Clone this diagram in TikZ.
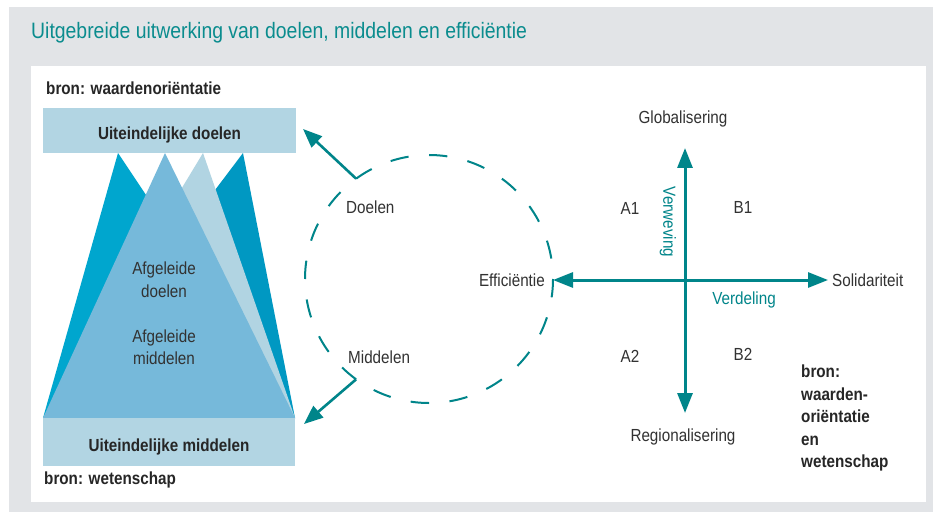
\documentclass[tikz,border=0pt]{standalone}
\usepackage{fontspec}
\setmainfont{Liberation Sans}[FakeStretch=0.87]
\usetikzlibrary{arrows.meta,calc}
\definecolor{tealc}{RGB}{0,133,138}
\definecolor{titlec}{RGB}{10,140,142}
\definecolor{bgc}{RGB}{226,228,231}
\definecolor{boxc}{RGB}{178,213,227}
\definecolor{cyanL}{RGB}{0,166,206}
\definecolor{cyanR}{RGB}{0,152,194}
\definecolor{lightT}{RGB}{177,212,226}
\definecolor{mainT}{RGB}{118,185,218}
\definecolor{txt}{RGB}{50,50,50}
\tikzset{
  lbl/.style={inner sep=0pt, text=txt, font=\fontsize{17.5}{21}\selectfont},
  blbl/.style={lbl, font=\fontsize{17.5}{22.5}\selectfont\bfseries, text=black!85},
  tlbl/.style={lbl, text=tealc},
  boxnode/.style={fill=boxc, inner sep=0pt, text height=18.6pt, text depth=0pt, text=black!85, font=\fontsize{17.5}{21}\selectfont\bfseries},
  axis/.style={draw=tealc, line width=3pt, {Triangle[length=20pt,width=15pt]}-{Triangle[length=20pt,width=15pt]}},
  outarrow/.style={draw=tealc, line width=2.6pt, -{Triangle[length=19pt,width=15pt]}},
  dashc/.style={draw=tealc, line width=2pt}
}
\begin{document}
\begin{tikzpicture}[x=1pt,y=-1pt]
\useasboundingbox (0,0) rectangle (933,513);
% panels
\fill[bgc] (9,7) rectangle (933,512);
\fill[white] (31,66) rectangle (926,502);
\node[anchor=west, inner sep=0pt, text=titlec, font=\fontsize{22.3}{26}\selectfont] (title) at (31,33) {Uitgebreide uitwerking van doelen, middelen en efficiëntie};
\node[blbl, anchor=west] (bron1) at (46,88) {bron: waardenoriëntatie};
\node[blbl, anchor=west] (bron2) at (44,480) {bron: wetenschap};
% triangles
\fill[cyanL] (118,153) -- (43,418) -- (295,418) -- cycle;
\fill[cyanR] (243,153) -- (43,418) -- (295,418) -- cycle;
\fill[lightT] (203,153) -- (43,418) -- (295,418) -- cycle;
\fill[mainT] (165,153) -- (43,418) -- (295,418) -- cycle;
% boxes
\node[boxnode, minimum width=253pt, minimum height=45pt] (topbox) at (169.5,130.5) {Uiteindelijke doelen};
\node[boxnode, minimum width=252pt, minimum height=48pt] (botbox) at (169,442) {Uiteindelijke middelen};
\node[lbl, align=center, font=\fontsize{17.5}{23}\selectfont] (afd) at (164,280) {Afgeleide\\doelen};
\node[lbl, align=center, font=\fontsize{17.5}{22}\selectfont] (afm) at (164,347) {Afgeleide\\middelen};
% dashed circle
\coordinate (cc) at (429,279);
\foreach \k in {0,...,19}{
  \pgfmathsetmacro{\st}{-126+18*\k}
  \pgfmathsetmacro{\en}{\st+8.5}
  \draw[dashc] plot[domain=\st:\en, samples=8, smooth] ({429+124*cos(\x)},{279+124*sin(\x)});
}
\coordinate (dst) at ($(cc)+(-126:124)$);
\coordinate (mst) at ($(cc)+(126:124)$);
\coordinate (dtip) at (303,129);
\coordinate (mtip) at (304,424);
\draw[outarrow] (dst) -- (dtip);
\draw[outarrow] (mst) -- (mtip);
\node[lbl, anchor=west] (doelen) at (346,207) {Doelen};
\node[lbl, anchor=west] (middelen) at (348,357) {Middelen};
\node[lbl, anchor=east] (eff) at (545,280) {Efficiëntie};
% axes
\coordinate (left) at (553,280);
\coordinate (right) at (828,280);
\coordinate (top) at (685,148);
\coordinate (bot) at (685,413);
\draw[axis] (left) -- (right);
\draw[axis] (top) -- (bot);
\node[lbl] (glob) at (683,119) {Globalisering};
\node[lbl] (reg) at (683,437) {Regionalisering};
\node[lbl, anchor=west] (sol) at (832,280) {Solidariteit};
\node[tlbl, rotate=-90] (verw) at (668,222) {Verweving};
\node[tlbl] (verd) at (744,300) {Verdeling};
\node[lbl] (a1) at (630,208) {A1};
\node[lbl] (b1) at (743,207) {B1};
\node[lbl] (a2) at (630,356) {A2};
\node[lbl] (b2) at (743,354) {B2};
\node[blbl, anchor=north west, align=left] (bron3) at (801,365) {bron:\\waarden-\\oriëntatie\\en\\wetenschap};
\end{tikzpicture}
\end{document}
